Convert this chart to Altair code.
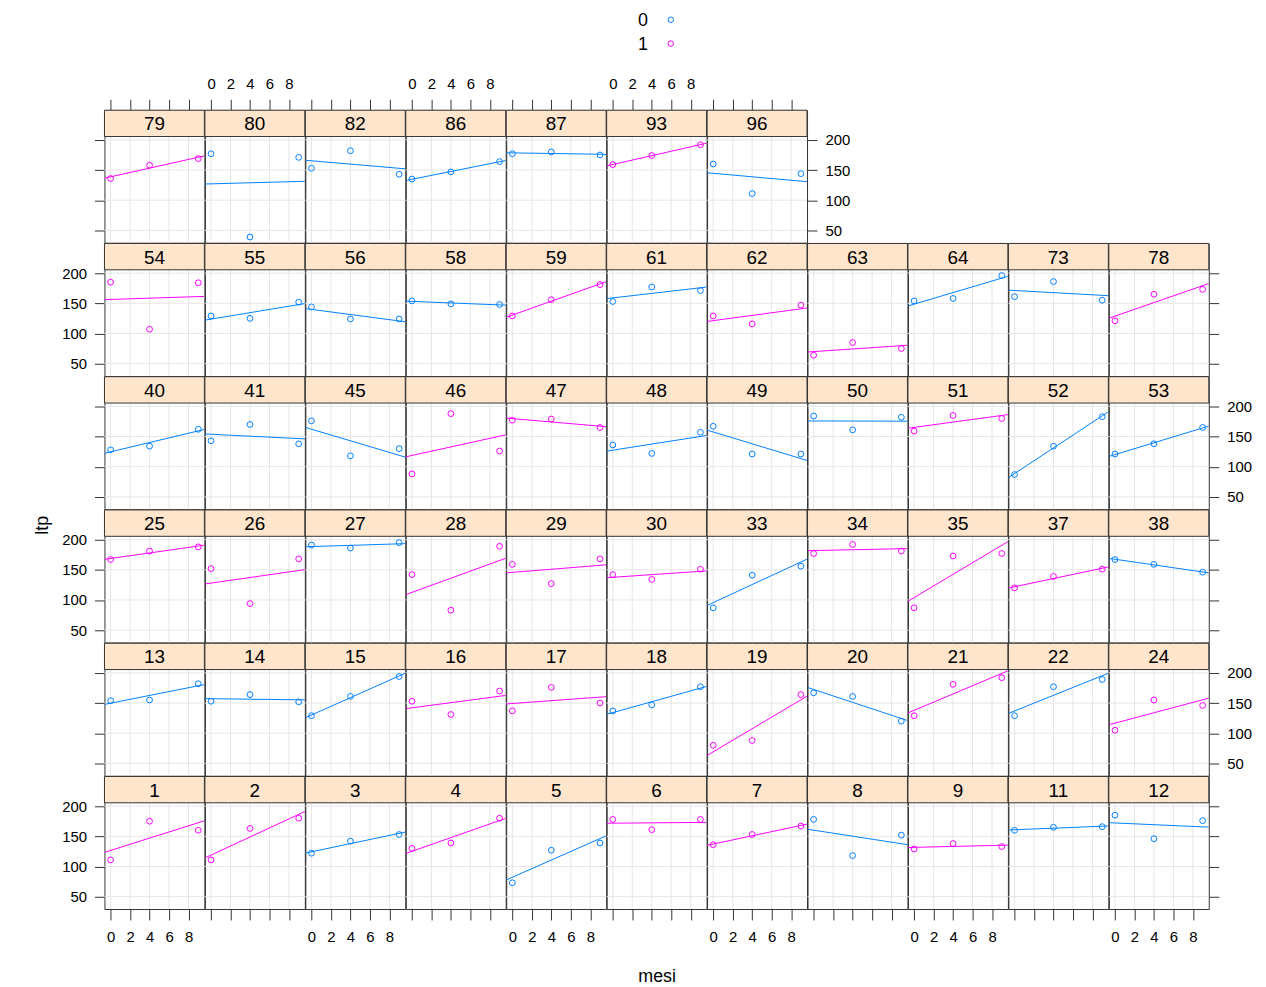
import altair as alt
import pandas as pd

# ---------------- data ----------------
MESI = [0, 4, 9]

PANEL_IDS = [1, 2, 3, 4, 5, 6, 7, 8, 9, 11, 12,
             13, 14, 15, 16, 17, 18, 19, 20, 21, 22, 24,
             25, 26, 27, 28, 29, 30, 33, 34, 35, 37, 38,
             40, 41, 45, 46, 47, 48, 49, 50, 51, 52, 53,
             54, 55, 56, 58, 59, 61, 62, 63, 64, 73, 78,
             79, 80, 82, 86, 87, 93, 96]

GROUPS = [1, 1, 0, 1, 0, 1, 1, 0, 1, 0, 0,
          0, 0, 0, 1, 1, 0, 1, 0, 1, 0, 1,
          1, 1, 0, 1, 1, 1, 0, 1, 1, 1, 0,
          0, 0, 0, 1, 1, 0, 0, 0, 1, 0, 0,
          1, 0, 0, 0, 1, 0, 1, 1, 0, 0, 1,
          1, 0, 0, 0, 0, 1, 0]

LTP_M0 = [111, 111, 122, 130, 73, 178, 136, 178, 129, 160, 185,
          154, 153, 129, 153, 137, 137, 80, 167, 129, 129, 105,
          167, 152, 191, 142, 159, 142, 87, 177, 87, 120, 167,
          128, 143, 176, 88, 177, 136, 167, 184, 159, 87, 121,
          185, 129, 144, 154, 129, 153, 129, 64, 154, 161, 121,
          136, 177, 153, 135, 177, 159, 160]

LTP_M4 = [175, 163, 142, 139, 127, 161, 153, 118, 138, 165, 146,
          155, 164, 161, 131, 176, 147, 88, 161, 181, 177, 155,
          181, 94, 186, 83, 127, 134, 141, 192, 173, 139, 159,
          134, 170, 118, 188, 179, 122, 121, 161, 185, 134, 138,
          107, 125, 124, 149, 156, 177, 116, 85, 158, 186, 165,
          158, 39, 182, 147, 180, 174, 111]

LTP_M9 = [160, 180, 153, 180, 139, 178, 167, 152, 133, 166, 176,
          182, 152, 194, 170, 150, 177, 164, 120, 192, 189, 146,
          188, 168, 195, 189, 168, 151, 156, 181, 177, 151, 146,
          162, 138, 130, 126, 165, 157, 121, 182, 180, 183, 165,
          184, 152, 124, 148, 181, 171, 147, 75, 196, 155, 173,
          169, 171, 143, 164, 175, 192, 144]

LAYOUT_ROWS = [
    [79, 80, 82, 86, 87, 93, 96],
    [54, 55, 56, 58, 59, 61, 62, 63, 64, 73, 78],
    [40, 41, 45, 46, 47, 48, 49, 50, 51, 52, 53],
    [25, 26, 27, 28, 29, 30, 33, 34, 35, 37, 38],
    [13, 14, 15, 16, 17, 18, 19, 20, 21, 22, 24],
    [1, 2, 3, 4, 5, 6, 7, 8, 9, 11, 12],
]

LEGEND_LABELS = ["0", "1"]
COLORS = ["#0080ff", "#ff00ff"]
X_TICKS = [0, 2, 4, 6, 8]
Y_TICKS = [50, 100, 150, 200]
X_TITLE = "mesi"
Y_TITLE = "ltp"

# ---------------- style ----------------
FONT = "Liberation Sans Narrow, Arial Narrow, Liberation Sans, Arial, sans-serif"
FRAME = "#333333"
STRIP_FILL = "#ffe5cc"
GRID = "#e6e6e6"
W, H, S = 100.5, 133.3, 26.5
NCOL = 11
NROW = len(LAYOUT_ROWS)

recs = []
for i, pid in enumerate(PANEL_IDS):
    for m, vals in zip(MESI, (LTP_M0, LTP_M4, LTP_M9)):
        recs.append({"panel": str(pid), "g": str(GROUPS[i]), "mesi": m, "ltp": vals[i]})
df = pd.DataFrame(recs)

xr = max(MESI) - min(MESI)
X_DOMAIN = [min(MESI) - 0.07 * xr, max(MESI) + 0.07 * xr]
Y_DOMAIN = [29.5, 205.5]

cscale = alt.Scale(domain=LEGEND_LABELS, range=COLORS)


def make_panel(pid, r, c, last):
    d = df[df.panel == str(pid)]
    # x axis
    if r == NROW - 1:
        kw = dict(orient="bottom", values=X_TICKS, grid=False, ticks=True, tickSize=11,
                  labels=(c % 2 == 0), labelPadding=10, title=None)
        if c == 5:
            kw.update(title=X_TITLE, titleY=68, titleBaseline="middle")
        xa = alt.Axis(**kw)
    elif r == 0:
        xa = alt.Axis(orient="top", values=X_TICKS, grid=False, ticks=True, tickSize=11,
                      labels=(c % 2 == 1), labelPadding=8, title=None)
    else:
        xa = None
    # y axis
    if c == 0:
        kw = dict(orient="left", values=Y_TICKS, grid=False, ticks=True, tickSize=10,
                  labels=(r in (1, 3, 5)), labelPadding=8, title=None)
        if r == 3:
            kw.update(title=Y_TITLE, titleX=-62, titleY=15, titleAngle=270,
                      titleBaseline="middle", titleAlign="center")
        ya = alt.Axis(**kw)
    elif last:
        ya = alt.Axis(orient="right", values=Y_TICKS, grid=False, ticks=True, tickSize=10,
                      labels=(r in (0, 2, 4)), labelPadding=8, title=None)
    else:
        ya = None

    X = alt.X("mesi:Q", scale=alt.Scale(domain=X_DOMAIN, nice=False, zero=False), axis=xa)
    Y = alt.Y("ltp:Q", scale=alt.Scale(domain=Y_DOMAIN, range=[H, S], nice=False, zero=False), axis=ya)
    C = alt.Color("g:N", scale=cscale, legend=None)

    # reference grid (lattice panel.grid) at the tick positions
    xgrid = alt.Chart(pd.DataFrame({"mesi": X_TICKS})).mark_rule(
        color=GRID, strokeWidth=1).encode(x=X)
    ygrid = alt.Chart(pd.DataFrame({"ltp": Y_TICKS})).mark_rule(
        color=GRID, strokeWidth=1).encode(y=Y)

    base = alt.Chart(d).encode(x=X, y=Y, color=C)
    pts = base.mark_point(shape="circle", filled=False, size=34, strokeWidth=1, opacity=1)
    line = base.transform_regression("mesi", "ltp", groupby=["g"], extent=X_DOMAIN).mark_line(
        strokeWidth=1, clip=True)

    sdf = pd.DataFrame({"panel": [str(pid)]})
    strip = alt.Chart(sdf).mark_rect(fill=STRIP_FILL, stroke=FRAME, strokeWidth=1).encode(
        x=alt.value(0), x2=alt.value(W), y=alt.value(0), y2=alt.value(S))
    lab = alt.Chart(sdf).mark_text(font=FONT, fontSize=19, color="black", baseline="middle").encode(
        text="panel:N", x=alt.value(W / 2), y=alt.value(S / 2 + 1))
    layers = [xgrid, ygrid, line, pts, strip, lab]

    if r == 0 and c == 5:
        for i, g in enumerate(LEGEND_LABELS):
            ldf = pd.DataFrame({"g": [g]})
            layers.append(alt.Chart(ldf).mark_text(font=FONT, fontSize=18, color="black",
                                                   baseline="middle").encode(
                text="g:N", x=alt.value(36.5), y=alt.value(-90 + 24 * i)))
            layers.append(alt.Chart(ldf).mark_point(shape="circle", filled=False, size=30,
                                                    strokeWidth=1, opacity=1).encode(
                color=alt.Color("g:N", scale=cscale, legend=None),
                x=alt.value(64.5), y=alt.value(-91 + 24 * i)))
    return alt.layer(*layers).properties(width=W, height=H)


def placeholder():
    return alt.Chart(pd.DataFrame({"a": [0]})).mark_point(opacity=0).properties(
        width=W, height=H, view=alt.ViewBackground(stroke="transparent"))


cells = []
for r, row in enumerate(LAYOUT_ROWS):
    for c in range(NCOL):
        if c < len(row):
            cells.append(make_panel(row[c], r, c, c == len(row) - 1))
        else:
            cells.append(placeholder())

chart = alt.concat(*cells, columns=NCOL, spacing=0, bounds="flush").properties(
    padding={"left": 25, "top": 0, "right": 5, "bottom": 5},
    background="white",
).configure_view(
    stroke=FRAME, strokeWidth=1
).configure_axis(
    labelFont=FONT, labelFontSize=15, labelColor="black",
    tickColor=FRAME, tickWidth=1,
    domain=False, labelOverlap=False, labelFlush=False,
    titleFont=FONT, titleFontSize=18, titleFontWeight="normal", titleColor="black",
)

chart.save("out.html", embed_options={"renderer": "svg", "actions": False})
